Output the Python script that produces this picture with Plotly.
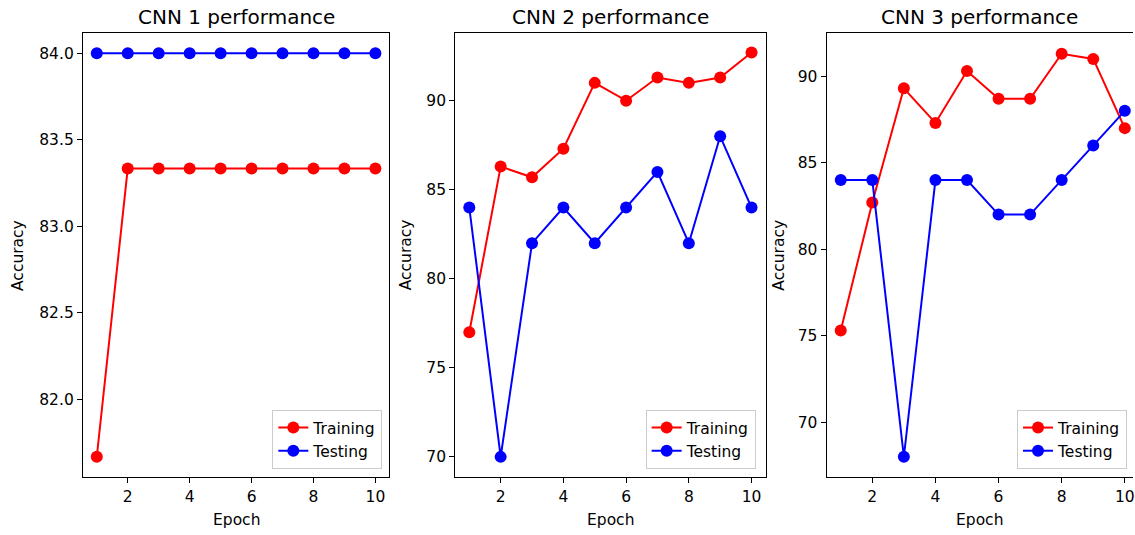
import plotly.graph_objects as go

epochs = list(range(1, 11))

cnn1_train = [81.667, 83.333, 83.333, 83.333, 83.333, 83.333, 83.333, 83.333, 83.333, 83.333]
cnn1_test = [84.0, 84.0, 84.0, 84.0, 84.0, 84.0, 84.0, 84.0, 84.0, 84.0]

cnn2_train = [77.0, 86.3, 85.7, 87.3, 91.0, 90.0, 91.3, 91.0, 91.3, 92.7]
cnn2_test = [84.0, 70.0, 82.0, 84.0, 82.0, 84.0, 86.0, 82.0, 88.0, 84.0]

cnn3_train = [75.3, 82.7, 89.3, 87.3, 90.3, 88.7, 88.7, 91.3, 91.0, 87.0]
cnn3_test = [84.0, 84.0, 68.0, 84.0, 84.0, 82.0, 82.0, 84.0, 86.0, 88.0]

titles = ["CNN 1 performance", "CNN 2 performance", "CNN 3 performance"]
series = [(cnn1_train, cnn1_test), (cnn2_train, cnn2_test), (cnn3_train, cnn3_test)]

W, H = 1135, 535
FONT = "DejaVu Sans"
TICK = 15.5
LAB = 15.5

# pixel layout of each panel (left, right)
px_x = [(83, 390), (456, 767), (828, 1135)]
px_top, px_bot = 33, 477
x_ranges = [[0.55, 10.45], [0.55, 10.45], [0.55, 10.26]]
y_ranges = [[81.55, 84.117], [68.87, 93.8], [66.83, 92.5]]
y_dticks = [0.5, 5, 5]
y_formats = [".1f", "d", "d"]
legend_right = [383, 757, 1129]
ylabel_x = [18, 407, 780]

fig = go.Figure()
legend_names = ["legend", "legend2", "legend3"]

for i, (tr, te) in enumerate(series):
    sfx = "" if i == 0 else str(i + 1)
    fig.add_trace(go.Scatter(
        x=epochs, y=tr, mode="lines+markers", name="Training",
        line=dict(color="#ff0000", width=2), marker=dict(color="#ff0000", size=12),
        xaxis="x" + sfx, yaxis="y" + sfx, legend=legend_names[i]))
    fig.add_trace(go.Scatter(
        x=epochs, y=te, mode="lines+markers", name="Testing",
        line=dict(color="#0000ff", width=2), marker=dict(color="#0000ff", size=12),
        xaxis="x" + sfx, yaxis="y" + sfx, legend=legend_names[i]))

layout = dict(
    width=W, height=H,
    margin=dict(l=0, r=0, t=0, b=0),
    paper_bgcolor="white", plot_bgcolor="white",
    font=dict(family=FONT, size=TICK, color="black"),
    annotations=[],
)

for i in range(3):
    sfx = "" if i == 0 else str(i + 1)
    l, r = px_x[i]
    dom_x = [l / W, min(r / W, 1.0)]
    dom_y = [1 - px_bot / H, 1 - px_top / H]
    layout["xaxis" + sfx] = dict(
        domain=dom_x, range=x_ranges[i], anchor="y" + sfx,
        tickmode="linear", tick0=0, dtick=2,
        showline=True, linecolor="black", linewidth=1, mirror=True,
        ticks="outside", ticklen=5, tickcolor="black",
        showgrid=False, zeroline=False, ticklabeloverflow="allow",
        tickfont=dict(family=FONT, size=TICK, color="black"),
    )
    layout["yaxis" + sfx] = dict(
        domain=dom_y, range=y_ranges[i], anchor="x" + sfx,
        tickmode="linear", tick0=0, dtick=y_dticks[i], tickformat=y_formats[i],
        showline=True, linecolor="black", linewidth=1, mirror=(i < 2),
        ticks="outside", ticklen=5, tickcolor="black",
        showgrid=False, zeroline=False,
        tickfont=dict(family=FONT, size=TICK, color="black"),
    )
    layout[legend_names[i]] = dict(
        x=legend_right[i] / W, y=1 - 469 / H, xanchor="right", yanchor="bottom",
        bgcolor="rgba(255,255,255,0.85)", bordercolor="#cccccc", borderwidth=1,
        font=dict(family=FONT, size=LAB, color="black"),
    )
    cx = (l + min(r, W)) / 2 / W
    layout["annotations"].append(dict(
        text=titles[i], x=cx, y=1 - 17 / H, xref="paper", yref="paper",
        showarrow=False, xanchor="center", yanchor="middle",
        font=dict(family=FONT, size=20, color="black")))
    layout["annotations"].append(dict(
        text="Epoch", x=(l + r) / 2 / W, y=1 - 520 / H, xref="paper", yref="paper",
        showarrow=False, xanchor="center", yanchor="middle",
        font=dict(family=FONT, size=LAB, color="black")))
    layout["annotations"].append(dict(
        text="Accuracy", x=ylabel_x[i] / W, y=1 - 255 / H, xref="paper", yref="paper",
        showarrow=False, xanchor="center", yanchor="middle", textangle=-90,
        font=dict(family=FONT, size=LAB, color="black")))

fig.update_layout(**layout)
fig.write_html("out.html", config={"displayModeBar": False},
               post_script="document.body.style.margin='0';document.body.style.overflow='hidden';")
